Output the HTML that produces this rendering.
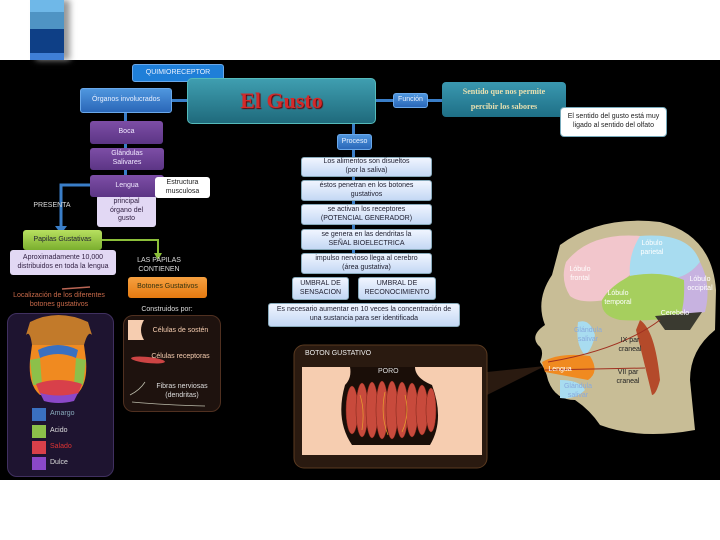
<!DOCTYPE html>
<html><head><meta charset="utf-8"><style>
body{margin:0;width:720px;height:540px;background:#fff;position:relative;overflow:hidden;font-family:"Liberation Sans",sans-serif}
.a{position:absolute;box-sizing:border-box;display:flex;align-items:center;justify-content:center;text-align:center;font-size:7px;line-height:1.25}
.bl{background:linear-gradient(#4f96de,#2a67b8);color:#e8f0ff;border-radius:3px;border:1px solid #6aa8ea}
.pu{background:linear-gradient(#7d4ea6,#5c3585);color:#f0e8ff;border-radius:3px}
.lb{background:linear-gradient(#f0f5ff,#c4d8f4);color:#223;border-radius:3px;border:1px solid #8ab}
.lav{background:#e2d8f4;color:#324;border-radius:3px}
.t{position:absolute;font-size:7px;color:#ddd;text-align:center;line-height:1.25}
.ln{position:absolute;background:#3a7ec8}
</style></head><body>
<div style="position:absolute;left:0;top:60px;width:720px;height:420px;background:#000"></div>
<div style="position:absolute;left:30px;top:0;width:34px;height:60px;background:linear-gradient(#6fb8e8 0,#6fb8e8 20%,#4f94c4 20%,#4f94c4 48%,#0e3f86 48%,#0e3f86 88%,#3f7fd6 88%);box-shadow:6px 0 6px #999"></div>

<div class="ln" style="left:124px;top:112px;width:3px;height:70px"></div>
<div class="ln" style="left:170px;top:99px;width:20px;height:3px"></div>
<div class="ln" style="left:352px;top:124px;width:3px;height:150px"></div>
<div class="ln" style="left:374px;top:99px;width:20px;height:3px"></div>
<div class="ln" style="left:427px;top:99px;width:16px;height:3px"></div>

<div class="a bl" style="left:132px;top:64px;width:92px;height:18px;background:#1f7fd8">QUIMIORECEPTOR</div>
<div class="a" style="left:187px;top:78px;width:189px;height:46px;background:linear-gradient(#3f9eb0,#1f6a7c);border-radius:5px;border:1px solid #5bb;font:bold 22px 'Liberation Serif',serif;color:#d42a2a;text-shadow:1px 1px 1px #600">El Gusto</div>
<div class="a bl" style="left:80px;top:88px;width:92px;height:25px">Órganos involucrados</div>
<div class="a pu" style="left:90px;top:121px;width:73px;height:23px">Boca</div>
<div class="a pu" style="left:90px;top:148px;width:74px;height:22px">Glándulas<br>Salivares</div>
<div class="a lav" style="left:97px;top:195px;width:59px;height:32px">principal<br>órgano del<br>gusto</div>
<div class="a pu" style="left:90px;top:175px;width:74px;height:22px">Lengua</div>
<div class="a" style="left:155px;top:177px;width:55px;height:21px;background:#fff;color:#222;border-radius:3px">Estructura<br>musculosa</div>

<svg style="position:absolute;left:0;top:0" width="720" height="540">
<path d="M90 185 H61 V228" stroke="#3a7ec8" stroke-width="3" fill="none"/>
<polygon points="55,226 67,226 61,234" fill="#3a7ec8"/>
<path d="M102 240 H158 V255" stroke="#8cbf3a" stroke-width="2" fill="none"/>
<polygon points="154,253 162,253 158,260" fill="#8cbf3a"/>
<path d="M62 289 L90 287" stroke="#b65" stroke-width="1.5"/>
<polygon points="487,372 487,395 545,366" fill="#2a1a10"/>
<path d="M560 245 Q600 215 660 222 Q712 235 716 290 L715 330 Q690 350 690 380 L695 430 Q640 440 600 425 Q590 410 575 400 Q555 400 548 380 Q546 370 540 362 Q545 350 538 345 Q530 335 545 325 Q535 300 552 275 Z" fill="#c8bd96"/>
<path d="M566 262 Q590 232 640 236 L652 250 Q635 262 630 275 Q610 290 605 300 Q580 304 570 296 Q560 280 566 262 Z" fill="#f2c6cc"/>
<path d="M640 236 Q690 232 700 262 Q690 275 676 278 Q650 272 630 276 Q628 255 640 236 Z" fill="#a8dcf0"/>
<path d="M700 262 Q712 285 705 312 L685 316 Q676 296 676 278 Q690 275 700 262 Z" fill="#c7b2e0"/>
<path d="M630 276 Q660 270 684 280 Q685 305 680 316 Q650 322 620 320 Q600 316 602 300 Q610 286 630 276 Z" fill="#a6cf5e"/>
<path d="M655 316 L702 312 L690 330 L665 330 Z" fill="#3a3a30"/>
<path d="M640 320 Q655 330 660 380 Q656 395 652 395 Q646 370 636 330 Z" fill="#b44a2a"/>
<path d="M578 322 Q590 318 595 335 Q592 350 585 355 Q575 345 578 322 Z" fill="#a8dcf0"/>
<path d="M560 380 Q580 380 585 390 Q575 400 560 398 Z" fill="#a8dcf0"/>
<path d="M542 362 Q560 352 590 356 Q600 372 588 380 L545 372 Z" fill="#f08a20"/>
<path d="M545 370 L645 368 M548 362 Q620 350 660 320" stroke="#a03020" stroke-width="1" fill="none"/>
<rect x="294" y="345" width="193" height="123" rx="10" fill="#2a1a10" stroke="#5a3a20"/>
<rect x="302" y="367" width="180" height="88" fill="#f6cdb0"/>
<path d="M350 367 L415 367 Q415 378 432 385 Q445 420 430 445 L352 445 Q335 420 345 385 Q352 378 350 367 Z" fill="#1a0e08"/>
<g fill="#c84a3c" stroke="#7a2418" stroke-width=".5">
<ellipse cx="352" cy="410" rx="6" ry="24"/><ellipse cx="362" cy="410" rx="6" ry="27"/><ellipse cx="372" cy="410" rx="6" ry="28"/><ellipse cx="382" cy="410" rx="6" ry="29"/><ellipse cx="392" cy="410" rx="6" ry="29"/><ellipse cx="402" cy="410" rx="6" ry="28"/><ellipse cx="412" cy="410" rx="6" ry="27"/><ellipse cx="422" cy="410" rx="6" ry="25"/><ellipse cx="431" cy="410" rx="5" ry="22"/>
</g>
<path d="M360 395 Q365 410 362 430 M385 392 Q380 415 388 435 M405 395 Q410 415 402 432" stroke="#e8a030" stroke-width=".7" fill="none"/>
</svg>

<div class="a" style="left:23px;top:230px;width:79px;height:20px;background:linear-gradient(#b8e060,#7aae2e);color:#223;border-radius:3px">Papilas Gustativas</div>
<div class="a lav" style="left:10px;top:250px;width:106px;height:25px">Aproximadamente 10,000<br>distribuidos en toda la lengua</div>
<div class="t" style="left:32px;top:202px;width:40px">PRESENTA</div>
<div class="t" style="left:130px;top:257px;width:58px">LAS PAPILAS<br>CONTIENEN</div>
<div class="a" style="left:128px;top:277px;width:79px;height:21px;background:linear-gradient(#f6a040,#e57a10);color:#331;border-radius:3px">Botones Gustativos</div>
<div class="t" style="left:5px;top:292px;width:108px;color:#c96a4a">Localización de los diferentes<br>botones gustativos</div>
<div style="position:absolute;left:7px;top:313px;width:105px;height:162px;border-radius:10px;background:#1e1430;border:1px solid #403060"></div>
<svg style="position:absolute;left:0;top:0" width="720" height="540">
<path d="M30 322 Q58 308 88 322 L92 335 Q88 330 84 345 L32 345 Q30 330 26 335 Z" fill="#c27a2a"/>
<path d="M32 345 L84 345 L86 360 Q88 385 76 395 L40 395 Q28 385 30 360 Z" fill="#f08a20"/>
<path d="M38 350 Q58 340 78 350 L76 358 Q58 350 40 358 Z" fill="#3a70c0"/>
<path d="M30 360 L40 358 L42 385 L33 385 Z" fill="#8cc04a"/>
<path d="M86 360 L76 358 L74 385 L83 385 Z" fill="#8cc04a"/>
<path d="M36 384 Q58 376 82 384 L78 394 Q58 398 40 394 Z" fill="#d8404a"/>
<path d="M40 393 Q58 398 78 393 L74 401 Q58 405 44 401 Z" fill="#8a48c8"/>
<rect x="32" y="408" width="14" height="13" fill="#3a70c0"/><rect x="32" y="425" width="14" height="13" fill="#8cc04a"/><rect x="32" y="441" width="14" height="13" fill="#d8404a"/><rect x="32" y="457" width="14" height="13" fill="#8a48c8"/>
</svg>
<div class="t" style="left:50px;top:410px;color:#8ab">Amargo</div>
<div class="t" style="left:50px;top:427px">Acido</div>
<div class="t" style="left:50px;top:443px;color:#d33">Salado</div>
<div class="t" style="left:50px;top:459px">Dulce</div>
<div class="t" style="left:132px;top:306px;width:70px">Construidos por:</div>
<div style="position:absolute;left:123px;top:315px;width:96px;height:95px;border-radius:10px;background:#1e120e;border:1px solid #503020"></div>
<svg style="position:absolute;left:0;top:0" width="720" height="540">
<path d="M128 320 L144 320 Q138 330 144 340 L128 340 Z" fill="#f6cdb0"/>
<ellipse cx="148" cy="360" rx="17" ry="3" fill="#c44" transform="rotate(6 148 360)"/>
<path d="M130 395 Q140 390 145 382 M132 402 Q165 405 205 406" stroke="#bba" stroke-width=".8" fill="none"/>
</svg>
<div class="t" style="left:148px;top:327px;width:65px;color:#f6cdb0">Células de sostén</div>
<div class="t" style="left:148px;top:353px;width:65px;color:#f6cdb0">Células receptoras</div>
<div class="t" style="left:152px;top:383px;width:60px">Fibras nerviosas<br>(dendritas)</div>

<div class="a bl" style="left:337px;top:134px;width:35px;height:16px">Proceso</div>
<div class="a lb" style="left:301px;top:157px;width:131px;height:20px">Los alimentos son disueltos<br>(por la saliva)</div>
<div class="a lb" style="left:301px;top:180px;width:131px;height:21px">éstos penetran en los botones<br>gustativos</div>
<div class="a lb" style="left:301px;top:204px;width:131px;height:21px">se activan los receptores<br>(POTENCIAL GENERADOR)</div>
<div class="a lb" style="left:301px;top:229px;width:131px;height:21px">se genera en las dendritas la<br>SEÑAL BIOELECTRICA</div>
<div class="a lb" style="left:301px;top:253px;width:131px;height:21px">impulso nervioso llega al cerebro<br>(área gustativa)</div>
<div class="a lb" style="left:292px;top:277px;width:57px;height:23px">UMBRAL DE<br>SENSACION</div>
<div class="a lb" style="left:358px;top:277px;width:78px;height:23px">UMBRAL DE<br>RECONOCIMIENTO</div>
<div class="a lb" style="left:268px;top:303px;width:192px;height:24px">Es necesario aumentar en 10 veces la concentración de<br>una sustancia para ser identificada</div>

<div class="a bl" style="left:393px;top:93px;width:35px;height:15px">Función</div>
<div class="a" style="left:442px;top:82px;width:124px;height:35px;background:linear-gradient(#3a98b0,#1e6f86);border-radius:4px;font:bold 8px 'Liberation Serif',serif;color:#e8e0b0;line-height:1.8">Sentido que nos permite<br>percibir los sabores</div>
<div class="a" style="left:560px;top:107px;width:107px;height:30px;background:#fff;color:#222;border-radius:4px;border:1px solid #7ab">El sentido del gusto está muy<br>ligado al sentido del olfato</div>

<div class="t" style="left:632px;top:240px;width:40px;color:#fff">Lóbulo<br>parietal</div>
<div class="t" style="left:560px;top:266px;width:40px;color:#fff">Lóbulo<br>frontal</div>
<div class="t" style="left:680px;top:276px;width:40px;color:#fff">Lóbulo<br>occipital</div>
<div class="t" style="left:598px;top:290px;width:40px;color:#fff">Lóbulo<br>temporal</div>
<div class="t" style="left:655px;top:310px;width:40px;color:#fff">Cerebelo</div>
<div class="t" style="left:568px;top:327px;width:40px;color:#8ad">Glándula<br>salivar</div>
<div class="t" style="left:610px;top:337px;width:40px;color:#222">IX par<br>craneal</div>
<div class="t" style="left:608px;top:369px;width:40px;color:#222">VII par<br>craneal</div>
<div class="t" style="left:545px;top:366px;width:30px;color:#fff">Lengua</div>
<div class="t" style="left:558px;top:383px;width:40px;color:#8ad">Glándula<br>salivar</div>
<div class="t" style="left:305px;top:350px;color:#eee">BOTON GUSTATIVO</div>
<div class="t" style="left:378px;top:368px;color:#ddd">PORO</div>
</body></html>
